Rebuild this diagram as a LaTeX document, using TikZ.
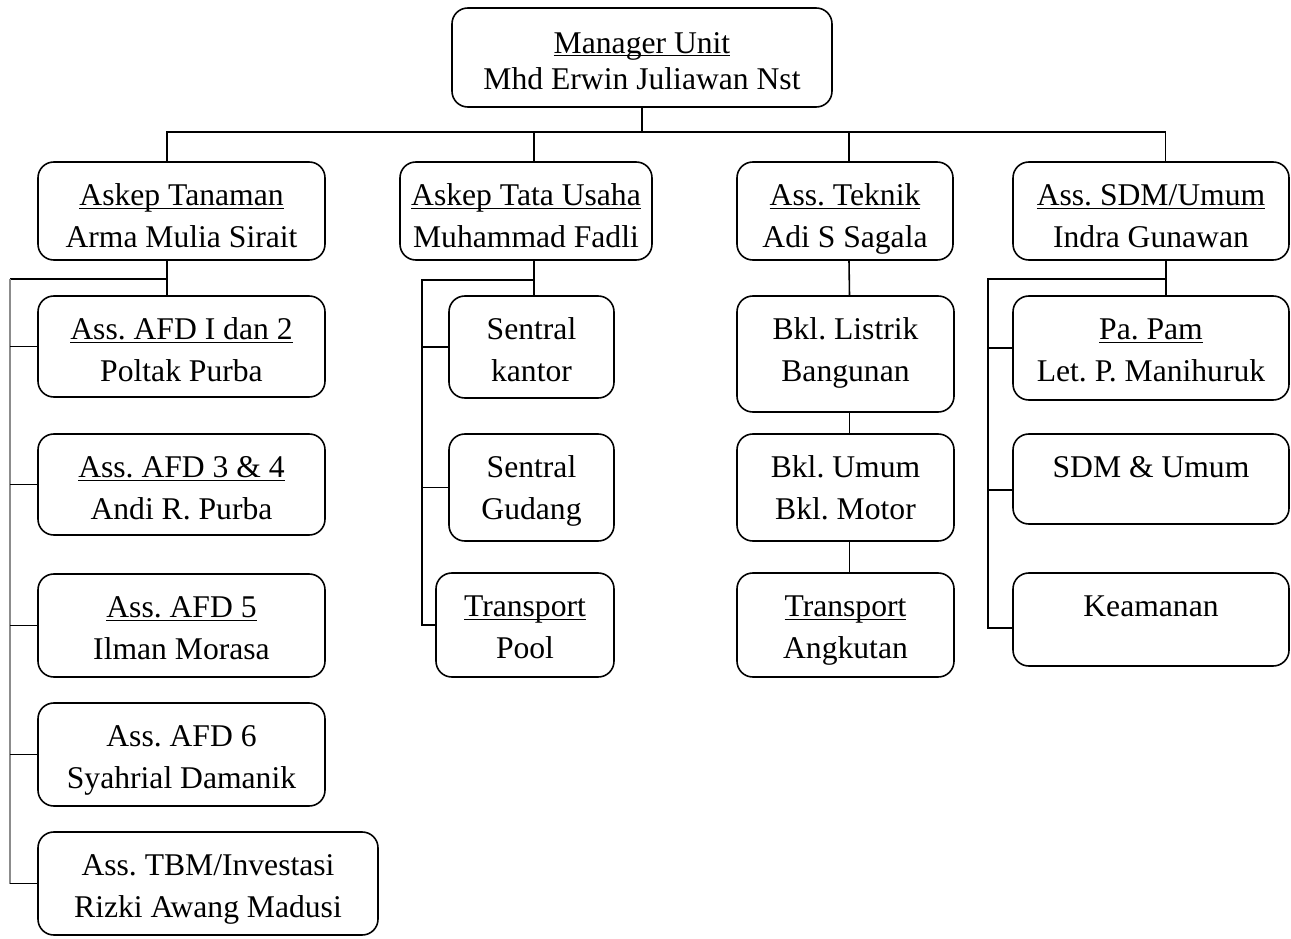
\documentclass[tikz,border=0pt]{standalone}
\usepackage{fontspec}
\setmainfont{Liberation Serif}
\frenchspacing
\newcommand{\ulname}[1]{\underline{\smash{#1}}}
\tikzset{
  frame/.style={draw, rounded corners=9pt, align=center, inner sep=2pt, line width=0.9pt},
  % two lines, first baseline kept at a fixed distance under the top edge
  unitbox/.style 2 args={frame, minimum width=#1*0.02cm, minimum height=#2*0.02cm,
    text depth=0pt, text height={97.6pt-#2*0.569pt}},
  % one line only
  onebox/.style 2 args={frame, minimum width=#1*0.02cm, minimum height=#2*0.02cm,
    text height=0pt, text depth={#2*0.569pt-49.6pt}},
  link/.style={line width=0.9pt},
}

\begin{document}
\begin{tikzpicture}[x=0.02cm, y=-0.02cm, font=\fontsize{18}{24}\selectfont]
  \useasboundingbox (0,0) rectangle (1291,939);

  % --- Top: manager ---
  \node[frame, minimum width=380*0.02cm, minimum height=99*0.02cm, font=\fontsize{18}{21}\selectfont,
    text depth=0pt, text height=36.9pt] (mgr) at (642,57.5) {\ulname{Manager Unit}\\Mhd Erwin Juliawan Nst};

  % --- Second row: the four heads ---
  \node[unitbox={287}{98}] (tan) at (181.5,211) {\ulname{Askep Tanaman}\\Arma Mulia Sirait};
  \node[unitbox={252}{98}] (tu)  at (526,211)   {\ulname{Askep Tata Usaha}\\Muhammad Fadli};
  \node[unitbox={216}{98}] (tek) at (845,211)   {\ulname{Ass. Teknik}\\Adi S Sagala};
  \node[unitbox={276}{98}] (sdm) at (1151,211)  {\ulname{Ass. SDM/Umum}\\Indra Gunawan};

  % --- Tanaman column ---
  \node[unitbox={287}{101}] (afd12) at (181.5,346.5) {\ulname{Ass. AFD I dan 2}\\Poltak Purba};
  \node[unitbox={287}{101}] (afd34) at (181.5,484.5) {\ulname{Ass. AFD 3 \& 4}\\Andi R. Purba};
  \node[unitbox={287}{103}] (afd5)  at (181.5,625.5) {\ulname{Ass. AFD 5}\\Ilman Morasa};
  \node[unitbox={287}{103}] (afd6)  at (181.5,754.5) {Ass. AFD 6\\Syahrial Damanik};
  \node[unitbox={340}{103}] (tbm)   at (208,883.5)   {Ass. TBM/Investasi\\Rizki Awang Madusi};

  % --- Tata Usaha column ---
  \node[unitbox={165}{102}] (sk) at (531.5,347)   {Sentral\\kantor};
  \node[unitbox={165}{107}] (sg) at (531.5,487.5) {Sentral\\Gudang};
  \node[unitbox={178}{104}] (tp) at (525,625)     {\ulname{Transport}\\Pool};

  % --- Teknik column ---
  \node[unitbox={217}{116}] (bl) at (845.5,354)   {Bkl. Listrik\\Bangunan};
  \node[unitbox={217}{107}] (bu) at (845.5,487.5) {Bkl. Umum\\Bkl. Motor};
  \node[unitbox={217}{104}] (ta) at (845.5,625)   {\ulname{Transport}\\Angkutan};

  % --- SDM column ---
  \node[unitbox={276}{104}] (pam) at (1151,348)  {\ulname{Pa. Pam}\\Let. P. Manihuruk};
  \node[onebox={276}{90}]   (su)  at (1151,479)  {SDM \& Umum};
  \node[onebox={276}{93}]   (kea) at (1151,619.5) {Keamanan};

  % manager to the heads
  \coordinate (bus) at (642,132);
  \draw[link] (mgr.south) -- (bus);
  \draw[link] ([xshift=-0.29cm]tan.north) |- (bus) -| ([xshift=0.29cm]sdm.north);
  \draw[link] ([xshift=0.16cm]tu.north) -- ([xshift=0.16cm]tu.north |- bus);
  \draw[link] ([xshift=0.08cm]tek.north) -- ([xshift=0.08cm]tek.north |- bus);

  % Tanaman branch
  \coordinate (tanj) at (167,279);
  \coordinate (tanl) at (10,279);
  \draw[link] ([xshift=-0.29cm]tan.south) -- ([xshift=-0.29cm]afd12.north);
  \draw[link] (tanj) -- (tanl);
  \draw[link, black!45] (tanl) -- (tanl |- tbm.west);
  \foreach \n in {afd12, afd34, afd5, afd6, tbm}
    \draw[link] (tanl |- \n.west) -- (\n.west);

  % Tata Usaha branch
  \coordinate (tuj) at (534,280);
  \coordinate (tul) at (422,280);
  \draw[link] ([xshift=0.16cm]tu.south) -- ([xshift=0.16cm]tu.south |- sk.north);
  \draw[link] (tuj) -- (tul) |- (tp.west);
  \foreach \n in {sk, sg}
    \draw[link] (tul |- \n.west) -- (\n.west);

  % Teknik chain
  \draw[link] ([xshift=0.08cm]tek.south) -- ([xshift=0.08cm]bl.north);
  \draw[link] ([xshift=0.08cm]bl.south) -- ([xshift=0.08cm]bu.north);
  \draw[link] ([xshift=0.08cm]bu.south) -- ([xshift=0.08cm]ta.north);

  % SDM branch
  \coordinate (sdmj) at (1166,279);
  \coordinate (sdml) at (988,279);
  \coordinate (sustub) at ([yshift=-0.22cm]su.west);
  \coordinate (keastub) at ([yshift=-0.17cm]kea.west);
  \draw[link] ([xshift=0.3cm]sdm.south) -- ([xshift=0.3cm]pam.north);
  \draw[link] (sdmj) -- (sdml) |- (keastub);
  \draw[link] (sdml |- pam.west) -- (pam.west);
  \draw[link] (sdml |- sustub) -- (sustub);
\end{tikzpicture}
\end{document}
